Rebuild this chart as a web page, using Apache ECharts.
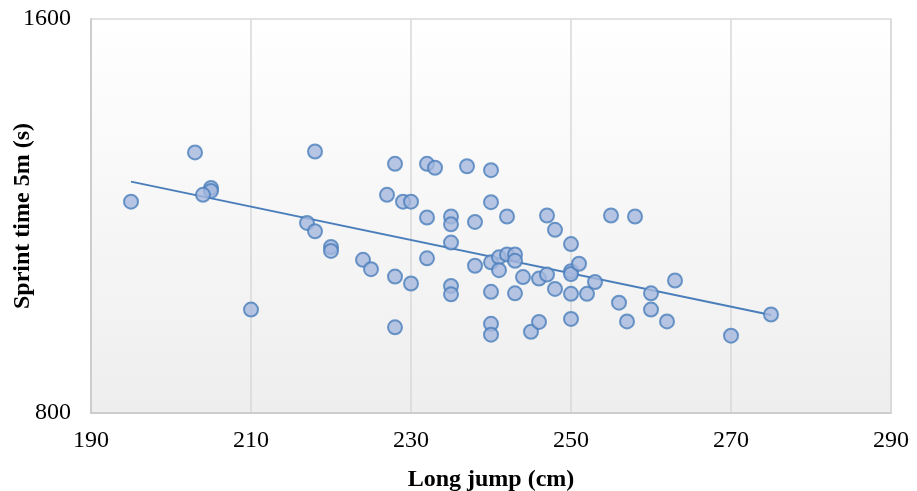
<!DOCTYPE html>
<html><head><meta charset="utf-8">
<script src="https://cdn.jsdelivr.net/npm/echarts@6/dist/echarts.min.js"></script>
<style>html,body{margin:0;padding:0;background:#fff}#c{width:917px;height:491px}</style>
</head><body><div id="c"></div>
<script>
const longJump = [195,203,205,205,204,210,218,217,218,220,220,224,225,228,228,228,227,229,230,230,232,233,232,232,235,235,235,235,235,237,238,238,240,240,240,240,240,240,241,241,242,242,243,243,243,244,245,246,246,247,247,248,248,250,250,250,250,250,251,252,253,255,256,257,258,260,260,262,263,270,275];
const sprintTime = [1229,1329,1257,1251,1243,1010,1331,1186,1169,1137,1129,1111,1092,1306,1077,974,1243,1229,1229,1063,1306,1298,1197,1114,1199,1183,1146,1058,1041,1301,1188,1099,1293,1228,1106,1046,981,959,1116,1090,1199,1122,1122,1109,1043,1076,965,1073,985,1201,1081,1172,1052,1143,1088,1082,1042,991,1103,1042,1066,1201,1024,986,1199,1043,1010,986,1069,957,1000];
const xTicks = [190,210,230,250,270,290];
const yTicks = [800,1600];

const pts = longJump.map((x,i)=>[x,sprintTime[i]]);
// least-squares trendline
const n = pts.length;
let sx=0,sy=0,sxx=0,sxy=0;
pts.forEach(([x,y])=>{sx+=x;sy+=y;sxx+=x*x;sxy+=x*y;});
const slope=(n*sxy-sx*sy)/(n*sxx-sx*sx);
const icpt=(sy-slope*sx)/n;
const xmin=Math.min(...longJump), xmax=Math.max(...longJump);
const trend=[[xmin,icpt+slope*xmin],[xmax,icpt+slope*xmax]];

const chart = echarts.init(document.getElementById('c'));
const font = '"Liberation Serif","Times New Roman",serif';
chart.setOption({
  animation:false,
  grid:{left:91,right:26,top:19,bottom:78,show:true,containLabel:false,outerBoundsMode:'none',
    borderColor:'#d9d9d9',borderWidth:1.5,
    backgroundColor:new echarts.graphic.LinearGradient(0,0,0,1,[{offset:0,color:'#ffffff'},{offset:1,color:'#eeeeee'}])},
  xAxis:{type:'value',min:xTicks[0],max:xTicks[xTicks.length-1],interval:20,
    name:'Long jump (cm)',nameLocation:'middle',nameGap:55,nameMoveOverlap:false,
    nameTextStyle:{fontFamily:font,fontSize:24,fontWeight:'bold',color:'#000'},
    axisLine:{show:true,lineStyle:{color:'#c8c8c8',width:1.5}},axisTick:{show:false},
    axisLabel:{fontFamily:font,fontSize:24,color:'#000',margin:16,formatter:v=>String(v)},
    splitLine:{show:true,lineStyle:{color:'#d9d9d9',width:1.5}}},
  yAxis:{type:'value',min:yTicks[0],max:yTicks[1],interval:800,
    name:'Sprint time 5m (s)',nameLocation:'middle',nameGap:56,nameMoveOverlap:false,
    nameTextStyle:{fontFamily:font,fontSize:24,fontWeight:'bold',color:'#000'},
    axisLine:{show:true,lineStyle:{color:'#c8c8c8',width:1.5}},axisTick:{show:false},
    axisLabel:{fontFamily:font,fontSize:24,color:'#000',margin:20,formatter:v=>String(v)},
    splitLine:{show:false}},
  series:[
    {type:'line',data:trend,symbol:'none',lineStyle:{color:'#4a7ebb',width:2},z:1},
    {type:'scatter',data:pts,symbol:'circle',symbolSize:14,
     itemStyle:{color:'#a5b8dd',borderColor:'#4a7ebb',borderWidth:2},z:2}
  ]
});
</script></body></html>
